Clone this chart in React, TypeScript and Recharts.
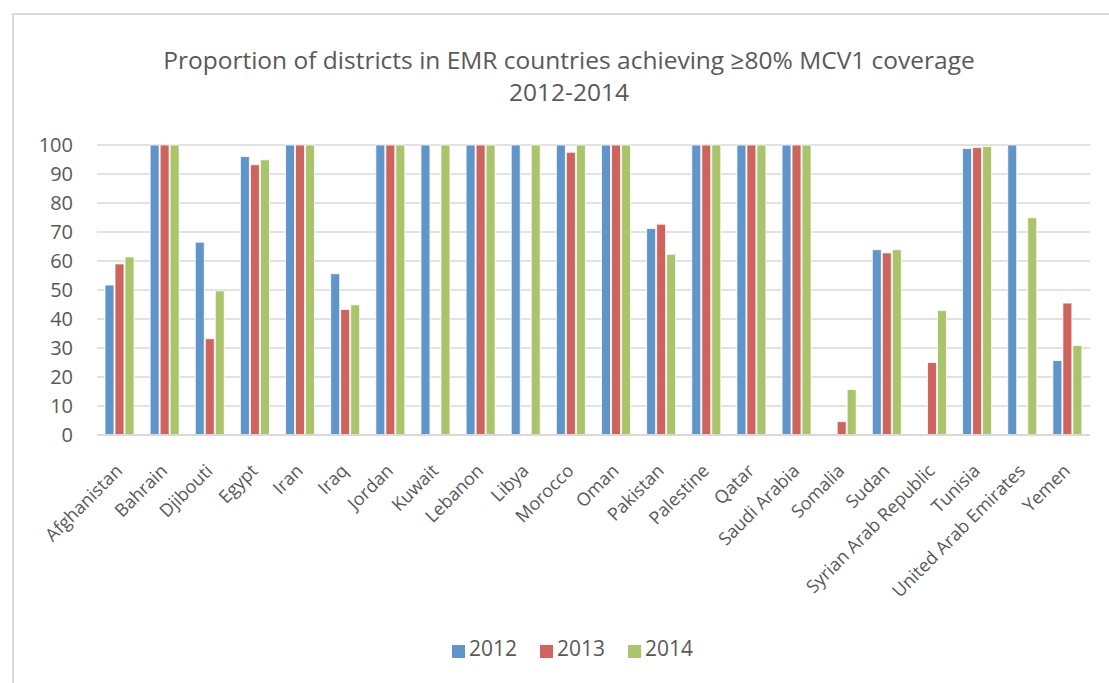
import React from 'react';
import { BarChart, Bar, XAxis, YAxis, CartesianGrid, Legend } from 'recharts';

const countries = [
    'Afghanistan', 'Bahrain', 'Djibouti', 'Egypt', 'Iran', 'Iraq', 'Jordan', 'Kuwait',
    'Lebanon', 'Libya', 'Morocco', 'Oman', 'Pakistan', 'Palestine', 'Qatar', 'Saudi Arabia',
    'Somalia', 'Sudan', 'Syrian Arab Republic', 'Tunisia', 'United Arab Emirates', 'Yemen',
];

// null = no bar in the original
const y2012 = [51.7, 100, 66.5, 96, 100, 55.6, 100, 100, 100, 100, 100, 100, 71.2, 100, 100, 100, null, 63.9, null, 98.8, 100, 25.7];
const y2013 = [59, 100, 33.2, 93.2, 100, 43.3, 100, null, 100, null, 97.5, 100, 72.7, 100, 100, 100, 4.6, 62.8, 25, 99.1, null, 45.5];
const y2014 = [61.4, 100, 49.7, 94.9, 100, 44.9, 100, 100, 100, 100, 100, 100, 62.3, 100, 100, 100, 15.7, 63.9, 42.9, 99.5, 74.9, 30.9];

const yTicks = [0, 10, 20, 30, 40, 50, 60, 70, 80, 90, 100];

const series = [
    { key: 'y2012', name: '2012', color: '#5f95c8' },
    { key: 'y2013', name: '2013', color: '#cd645e' },
    { key: 'y2014', name: '2014', color: '#a9c46a' },
];

const FONT = '"Open Sans", sans-serif';
const TEXT = '#595959';

const data = countries.map((c, i) => ({ country: c, y2012: y2012[i], y2013: y2013[i], y2014: y2014[i] }));

const AngledTick = (props: any) => {
    const { x, y, payload } = props;
    return (
        <g transform={`translate(${x - 5},${y + 20})`}>
            <text x={0} y={0} dy="0.7em" textAnchor="end" transform="rotate(-45)"
                fill={TEXT} fontSize={18} fontFamily={FONT}>
                {payload.value}
            </text>
        </g>
    );
};

export default function App() {
    return (
        <div style={{ position: 'absolute', left: 0, top: 0, width: 1109, height: 683, overflow: 'hidden', background: '#fff' }}>
            <div style={{ position: 'absolute', left: 12, top: 13, width: 1200, height: 800, border: '2px solid #d9d9d9' }} />
            <div style={{
                position: 'absolute', left: 0, top: 44, width: 1138, textAlign: 'center',
                fontFamily: FONT, fontSize: 24.5, lineHeight: '32px', color: TEXT,
            }}>
                Proportion of districts in EMR countries achieving ≥80% MCV1 coverage<br />2012-2014
            </div>
            <div style={{ position: 'absolute', left: 0, top: 0 }}>
                <BarChart width={1109} height={683} data={data}
                    margin={{ top: 145, right: 19, bottom: 20, left: 0 }}
                    barGap={1} barSize={9}>
                    <CartesianGrid vertical={false} stroke="#d9d9d9" strokeWidth={1.5} />
                    <XAxis dataKey="country" interval={0} height={198} tick={<AngledTick />}
                        tickLine={false} axisLine={{ stroke: '#d9d9d9', strokeWidth: 2 }} />
                    <YAxis domain={[0, 100]} ticks={yTicks} interval={0} width={97} axisLine={false} tickLine={false}
                        tickSize={0} tickMargin={24}
                        tick={{ fill: TEXT, fontSize: 20, fontFamily: FONT }} />
                    <Legend verticalAlign="bottom" align="center" iconType="square" iconSize={13}
                        wrapperStyle={{ left: 39, width: 1090, height: 30, lineHeight: '30px', fontFamily: FONT }}
                        formatter={(value: string) => (
                            <span style={{ color: TEXT, fontSize: 21, paddingRight: 13 }}>{value}</span>
                        )} />
                    {series.map(s => (
                        <Bar key={s.key} dataKey={s.key} name={s.name} fill={s.color}
                            stroke="#ffffff" strokeWidth={0.8} isAnimationActive={false} />
                    ))}
                </BarChart>
            </div>
        </div>
    );
}
